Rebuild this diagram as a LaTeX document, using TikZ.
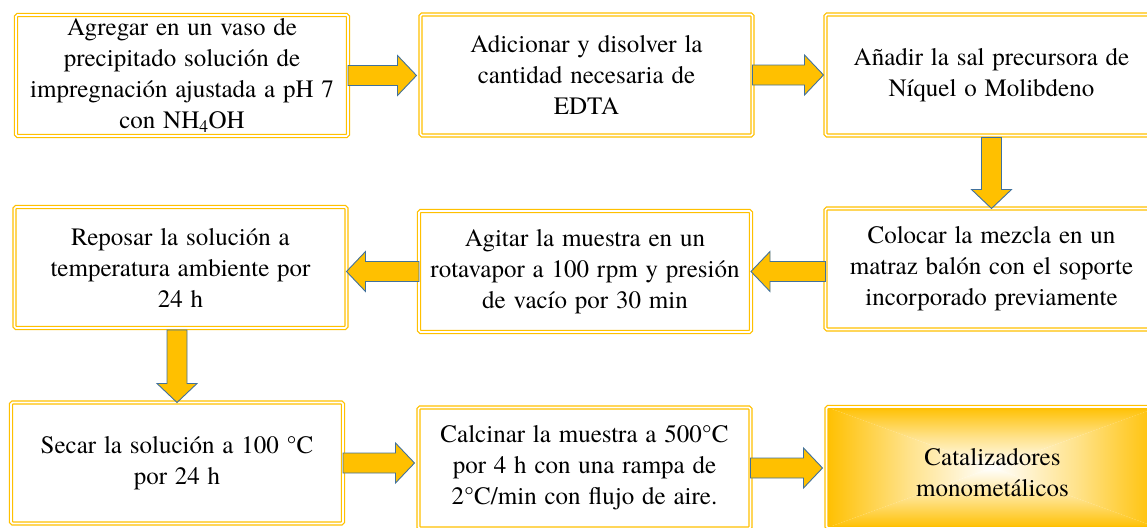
\documentclass[tikz,border=0pt]{standalone}
\usepackage{fontspec}
\setmainfont{TeX Gyre Termes}[WordSpace=1.25]
\usetikzlibrary{calc,backgrounds}
\definecolor{gold}{HTML}{FFC000}
\definecolor{arrowedge}{HTML}{41719C}
\tikzset{
  stepbox/.style={draw=gold, double=white, double distance=1.6pt, line width=1.3pt,
    rounded corners=1.5pt, minimum width=332pt, minimum height=121pt,
    inner sep=0pt, outer sep=0pt, align=center, font=\fontsize{25}{31}\selectfont},
  barrow/.style={fill=gold, draw=arrowedge, line width=0.9pt, line join=miter},
  fade/.style={middle color=gold!45!white}
}
\newcommand\blockarrow[2]{%
  \coordinate (bh) at ($(#2)!19pt!(#1)$);
  \draw[barrow] ($(#1)!10pt!90:(#2)$) -- ($(bh)!10pt!-90:(#1)$) -- ($(bh)!20pt!-90:(#1)$)
    -- (#2) -- ($(bh)!20pt!90:(#1)$) -- ($(bh)!10pt!90:(#1)$) -- ($(#1)!10pt!-90:(#2)$) -- cycle;
}
\begin{document}
\begin{tikzpicture}[x=1pt,y=-1pt]
\useasboundingbox (0,0) rectangle (1147,527);
\clip (0,0) rectangle (1147,527);
% row 1
\node[stepbox] (b1) at (182,75.5) {Agregar en un vaso de\\precipitado solución de\\impregnación ajustada a pH 7\\con NH\textsubscript{4}OH};
\node[stepbox] (b2) at (586.5,75) {Adicionar y disolver la\\cantidad necesaria de\\EDTA};
\node[stepbox] (b3) at (991.5,75) {Añadir la sal precursora de\\Níquel o Molibdeno};
% row 2
\node[stepbox] (b4) at (180.5,267.5) {Reposar la solución a\\temperatura ambiente por\\24 h};
\node[stepbox] (b5) at (585,271.5) {Agitar la muestra en un\\rotavapor a 100 rpm y presión\\de vacío por 30 min};
\node[stepbox] (b6) at (991.5,269) {Colocar la mezcla en un\\matraz balón con el soporte\\incorporado previamente};
% row 3
\node[stepbox] (b7) at (177,463) {Secar la solución a 100 °C\\por 24 h};
\node[stepbox] (b8) at (584.5,468) {Calcinar la muestra a 500°C\\por 4 h con una rampa de\\2°C/min con flujo de aire.};
\node[stepbox] (b9) at (992.5,467.5) {\rule{0pt}{28pt}Catalizadores\\monometálicos};
\begin{scope}[on background layer]
  \shade[top color=gold, bottom color=white, fade] (b9.north west) -- (b9.north east) -- (b9.center) -- cycle;
  \shade[bottom color=gold, top color=white, fade] (b9.south west) -- (b9.south east) -- (b9.center) -- cycle;
  \shade[left color=gold, right color=white, fade] (b9.north west) -- (b9.south west) -- (b9.center) -- cycle;
  \shade[right color=gold, left color=white, fade] (b9.north east) -- (b9.south east) -- (b9.center) -- cycle;
\end{scope}
% arrows
\coordinate (a1e) at ($(b2.west |- b1.east)+(-4,0)$);
\blockarrow{b1.east}{a1e}
\coordinate (a2e) at ($(b3.west |- b2.east)+(-2,0)$);
\blockarrow{b2.east}{a2e}
\coordinate (a3s) at ($(b3.south)+(0,2)$);
\blockarrow{a3s}{b6.north}
\coordinate (a4s) at (b6.west |- b5.east);
\blockarrow{a4s}{b5.east}
\coordinate (a5e) at (b4.east |- b5.west);
\blockarrow{b5.west}{a5e}
\coordinate (a6s) at ($(b4.south -| b7.north)+(0,2)$);
\blockarrow{a6s}{b7.north}
\coordinate (a7e) at ($(b8.west |- b7.east)+(-4,0)$);
\blockarrow{b7.east}{a7e}
\coordinate (a8e) at ($(b9.west |- b8.east)+(-4,0)$);
\blockarrow{b8.east}{a8e}
\end{tikzpicture}
\end{document}
